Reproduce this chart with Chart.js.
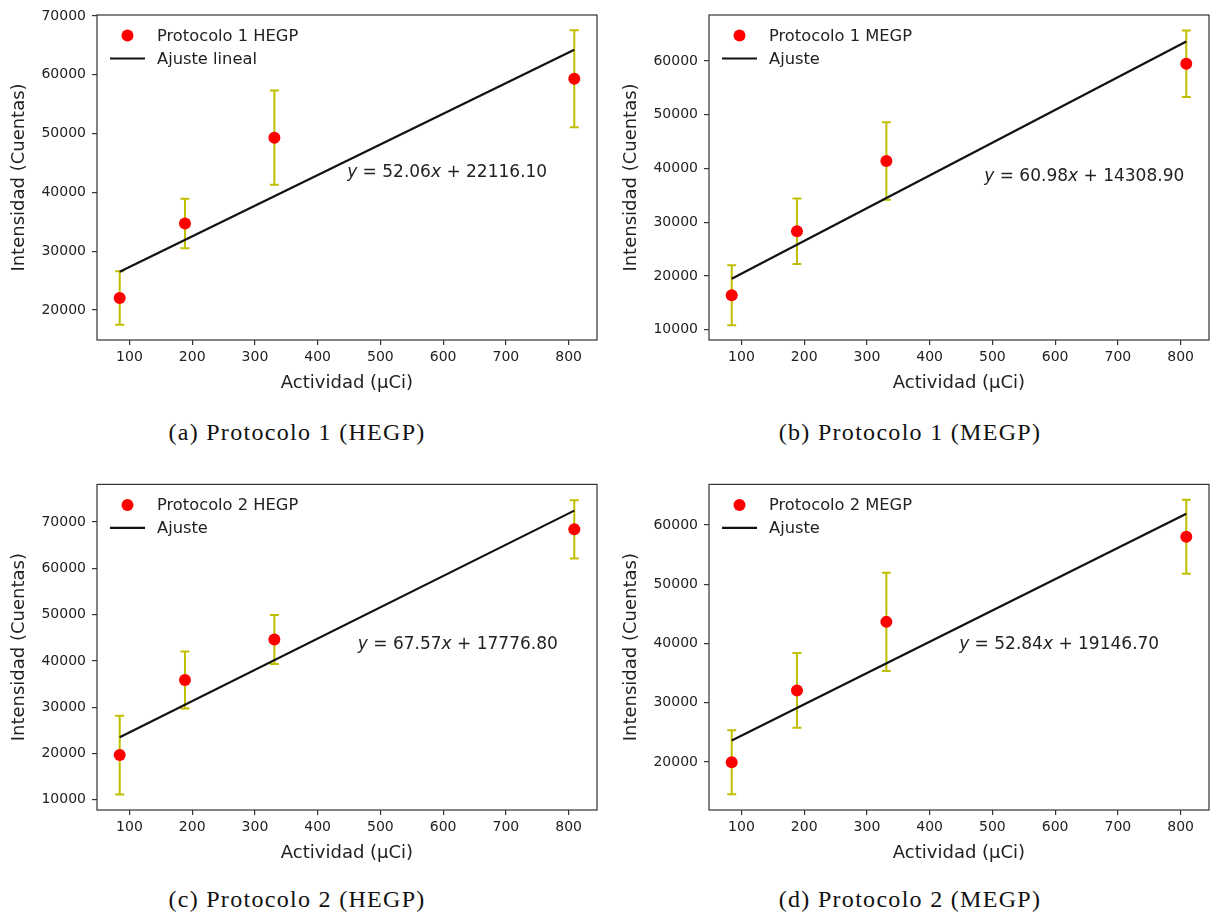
<!DOCTYPE html>
<html>
<head>
<meta charset="utf-8">
<script src="https://cdn.jsdelivr.net/npm/chart.js@4.4.1/dist/chart.umd.min.js"></script>
<style>
html,body{margin:0;padding:0;background:#fff;width:1215px;height:916px;overflow:hidden;}
canvas{position:absolute;}
.cap{position:absolute;font-family:"Liberation Serif","DejaVu Serif",serif;font-size:24px;color:#111;white-space:nowrap;transform:translate(-50%,-50%);letter-spacing:1.3px;line-height:28px;}
</style>
</head>
<body>
<canvas id="cA" width="607" height="400" style="left:0px;top:0px;"></canvas>
<canvas id="cB" width="603" height="400" style="left:612px;top:0px;"></canvas>
<canvas id="cC" width="607" height="400" style="left:0px;top:470px;"></canvas>
<canvas id="cD" width="603" height="400" style="left:612px;top:470px;"></canvas>
<div class="cap" id="capA" style="left:297px;top:432px;"></div>
<div class="cap" id="capB" style="left:910px;top:432px;"></div>
<div class="cap" id="capC" style="left:297px;top:899px;"></div>
<div class="cap" id="capD" style="left:910px;top:899px;"></div>
<script>
// ---------------- DATA ----------------
const xActividad = [84.5, 188.5, 331, 809];
const xFit = [84.5, 809];
const xTicks = [100, 200, 300, 400, 500, 600, 700, 800];

const yA = [22040, 34700, 49300, 59300];
const errA = [4540, 4200, 8000, 8250];
const fitA = [26515, 64233];
const yTicksA = [20000, 30000, 40000, 50000, 60000, 70000];

const yB = [16400, 28300, 41400, 59500];
const errB = [5600, 6100, 7200, 6200];
const fitB = [19462, 63642];
const yTicksB = [10000, 20000, 30000, 40000, 50000, 60000];

const yC = [19650, 35850, 44600, 68400];
const errC = [8500, 6150, 5300, 6300];
const fitC = [23486, 72439];
const yTicksC = [10000, 20000, 30000, 40000, 50000, 60000, 70000];

const yD = [19950, 32080, 43650, 58000];
const errD = [5400, 6300, 8300, 6250];
const fitD = [23612, 61894];
const yTicksD = [20000, 30000, 40000, 50000, 60000];

const legendPoints = ['Protocolo 1 HEGP', 'Protocolo 1 MEGP', 'Protocolo 2 HEGP', 'Protocolo 2 MEGP'];
const legendFit = ['Ajuste lineal', 'Ajuste', 'Ajuste', 'Ajuste'];
const eqSlope = ['52.06', '60.98', '67.57', '52.84'];
const eqIntercept = ['22116.10', '14308.90', '17776.80', '19146.70'];
const eqX = [447, 487, 464, 447];
const eqY = [42600, 37760, 42520, 39050];
const captions = ['(a) Protocolo 1 (HEGP)', '(b) Protocolo 1 (MEGP)', '(c) Protocolo 2 (HEGP)', '(d) Protocolo 2 (MEGP)'];
const xLimits = [48.3, 845.2];
const yLimits = [[14900, 70150], [8075, 68570], [7800, 78100], [11900, 66850]];

const xLabel = 'Actividad (μCi)';
const yLabel = 'Intensidad (Cuentas)';

// ---------------- STYLE / LAYOUT ----------------
const FONT = '"DejaVu Sans", Verdana, sans-serif';
const TXT = '#222';
Chart.defaults.font.family = FONT;
Chart.defaults.color = TXT;

const panels = [
  {id: 'cA', cap: 'capA', y: yA, err: errA, fit: fitA, ticks: yTicksA, padTop: 15, padRight: 10},
  {id: 'cB', cap: 'capB', y: yB, err: errB, fit: fitB, ticks: yTicksB, padTop: 15, padRight: 6},
  {id: 'cC', cap: 'capC', y: yC, err: errC, fit: fitC, ticks: yTicksC, padTop: 14, padRight: 10},
  {id: 'cD', cap: 'capD', y: yD, err: errD, fit: fitD, ticks: yTicksD, padTop: 14, padRight: 6}
];

const decor = {
  id: 'decor',
  beforeDatasetsDraw(chart, args, opts) {
    const ctx = chart.ctx, xs = chart.scales.x, ys = chart.scales.y;
    ctx.save();
    ctx.strokeStyle = '#bfbf00';
    ctx.lineWidth = 2;
    for (let i = 0; i < opts.xv.length; i++) {
      const px = xs.getPixelForValue(opts.xv[i]);
      const p1 = ys.getPixelForValue(opts.yv[i] - opts.ev[i]);
      const p2 = ys.getPixelForValue(opts.yv[i] + opts.ev[i]);
      ctx.beginPath();
      ctx.moveTo(px, p1); ctx.lineTo(px, p2);
      ctx.moveTo(px - 4.5, p1); ctx.lineTo(px + 4.5, p1);
      ctx.moveTo(px - 4.5, p2); ctx.lineTo(px + 4.5, p2);
      ctx.stroke();
    }
    ctx.restore();
  },
  afterDatasetsDraw(chart, args, opts) {
    const ctx = chart.ctx, xs = chart.scales.x, ys = chart.scales.y;
    const a = chart.chartArea;
    ctx.save();
    // equation
    let x = xs.getPixelForValue(opts.eqx);
    const y = ys.getPixelForValue(opts.eqy);
    ctx.fillStyle = TXT;
    ctx.textBaseline = 'alphabetic';
    ctx.textAlign = 'left';
    const parts = [['y', true], [' = ', false], [opts.slope, false], ['x', true], [' + ', false], [opts.intercept, false]];
    for (const [t, it] of parts) {
      ctx.font = (it ? 'italic ' : '') + '17px ' + FONT;
      ctx.fillText(t, x, y);
      x += ctx.measureText(t).width;
    }
    // legend
    ctx.font = '16.3px ' + FONT;
    ctx.textBaseline = 'middle';
    ctx.fillStyle = '#ff0000';
    ctx.beginPath();
    ctx.arc(a.left + 30.5, a.top + 20.5, 6, 0, Math.PI * 2);
    ctx.fill();
    ctx.fillStyle = TXT;
    ctx.fillText(chart.data.datasets[0].label, a.left + 60, a.top + 21.5);
    ctx.strokeStyle = '#111';
    ctx.lineWidth = 2.2;
    ctx.beginPath();
    ctx.moveTo(a.left + 13, a.top + 43.5);
    ctx.lineTo(a.left + 48, a.top + 43.5);
    ctx.stroke();
    ctx.fillText(chart.data.datasets[1].label, a.left + 60, a.top + 44.5);
    // frame
    ctx.strokeStyle = '#333';
    ctx.lineWidth = 1.2;
    ctx.strokeRect(a.left, a.top, a.right - a.left, a.bottom - a.top);
    ctx.restore();
  }
};

panels.forEach((p, k) => {
  document.getElementById(p.cap).textContent = captions[k];
  new Chart(document.getElementById(p.id), {
    type: 'scatter',
    data: {
      datasets: [
        {
          label: legendPoints[k],
          data: xActividad.map((x, i) => ({x: x, y: p.y[i]})),
          pointRadius: 6, pointHoverRadius: 6,
          backgroundColor: '#ff0000', borderWidth: 0
        },
        {
          type: 'line',
          label: legendFit[k],
          data: xFit.map((x, i) => ({x: x, y: p.fit[i]})),
          borderColor: '#111', borderWidth: 2.2, pointRadius: 0, fill: false
        }
      ]
    },
    options: {
      responsive: false,
      animation: false,
      devicePixelRatio: 1,
      layout: {padding: {top: p.padTop, right: p.padRight, left: 0, bottom: 0}},
      plugins: {
        legend: {display: false},
        tooltip: {enabled: false},
        decor: {
          xv: xActividad, yv: p.y, ev: p.err,
          eqx: eqX[k], eqy: eqY[k], slope: eqSlope[k], intercept: eqIntercept[k]
        }
      },
      scales: {
        x: {
          type: 'linear', min: xLimits[0], max: xLimits[1],
          afterBuildTicks: s => { s.ticks = xTicks.map(v => ({value: v})); },
          afterFit: s => { s.height = 60; },
          grid: {display: true, drawOnChartArea: false, drawTicks: true, tickLength: 5, tickColor: '#333', lineWidth: 1.2},
          border: {display: false},
          ticks: {font: {size: 14}, color: TXT, padding: 4, maxRotation: 0, autoSkip: false, callback: v => String(v)},
          title: {display: true, text: xLabel, font: {size: 18}, color: TXT, padding: {top: 0, bottom: 6}}
        },
        y: {
          type: 'linear', min: yLimits[k][0], max: yLimits[k][1],
          afterBuildTicks: s => { s.ticks = p.ticks.map(v => ({value: v})); },
          afterFit: s => { s.width = 97; },
          grid: {display: true, drawOnChartArea: false, drawTicks: true, tickLength: 5, tickColor: '#333', lineWidth: 1.2},
          border: {display: false},
          ticks: {font: {size: 14}, color: TXT, padding: 6, autoSkip: false, callback: v => String(v)},
          title: {display: true, text: yLabel, font: {size: 18}, color: TXT, padding: {top: 8.7, bottom: 0}}
        }
      }
    },
    plugins: [decor]
  });
});
</script>
</body>
</html>
